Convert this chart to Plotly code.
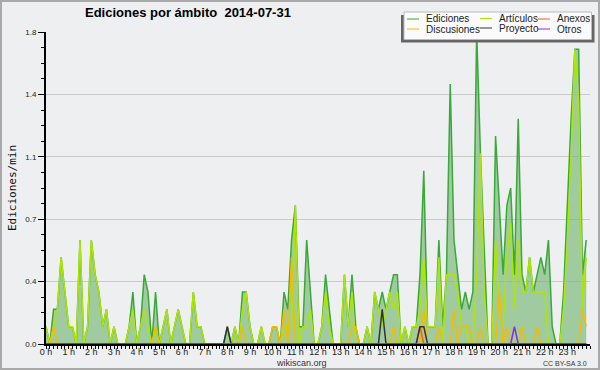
import plotly.graph_objects as go

# ---------------- data (edits per minute, 10-minute bins) ----------------
slots = list(range(144))

ediciones = [
    0.1, 0, 0.2, 0.2, 0.5, 0.3, 0.1, 0.1, 0, 0.6, 0, 0.1,
    0.6, 0.4, 0.3, 0.1, 0.2, 0, 0.1, 0, 0, 0, 0.1, 0.3,
    0, 0.1, 0.4, 0.3, 0, 0.3, 0, 0.1, 0.2, 0, 0.1, 0.2,
    0.1, 0, 0, 0.3, 0.1, 0.1, 0, 0, 0, 0, 0, 0,
    0.1, 0, 0.1, 0, 0.3, 0.3, 0.1, 0, 0, 0.1, 0, 0,
    0.1, 0.1, 0, 0.3, 0.2, 0.6, 0.8, 0.1, 0.1, 0.6, 0.3, 0,
    0, 0.1, 0.4, 0.2, 0, 0, 0, 0.4, 0.1, 0.4, 0.1, 0,
    0, 0.1, 0, 0.3, 0.2, 0.3, 0.2, 0.3, 0.4, 0.4, 0, 0.1,
    0, 0.1, 0.1, 0.4, 1.0, 0.1, 0.1, 0.1, 0.6, 0.1, 0.4, 1.5,
    0.6, 0.4, 0.2, 0.3, 0.2, 0.3, 1.8, 1.1, 0.5, 0, 0, 1.2,
    0.8, 0.4, 0.8, 0.9, 0.4, 1.3, 0.4, 0.3, 0.5, 0.3, 0.4, 0.5,
    0.4, 0.6, 0.1, 0, 0, 0.3, 0.8, 1.3, 1.7, 1.7, 0.4, 0.6,
]

articulos = [
    0.1, 0, 0.1, 0.2, 0.5, 0.3, 0.1, 0.1, 0, 0.6, 0, 0.1,
    0.6, 0.4, 0.3, 0.1, 0.2, 0, 0.1, 0, 0, 0, 0.1, 0.2,
    0, 0.1, 0.2, 0.1, 0, 0.1, 0, 0.1, 0.2, 0, 0.1, 0.2,
    0.1, 0, 0, 0.3, 0.1, 0.1, 0, 0, 0, 0, 0, 0,
    0, 0, 0.1, 0, 0.2, 0.3, 0.1, 0, 0, 0.1, 0, 0,
    0, 0, 0, 0.1, 0.1, 0.1, 0.8, 0, 0.1, 0.1, 0.2, 0,
    0, 0.1, 0.3, 0.1, 0, 0, 0, 0.4, 0.1, 0.3, 0, 0,
    0, 0.1, 0, 0.3, 0.2, 0.1, 0.2, 0.3, 0.2, 0.3, 0, 0.1,
    0, 0.1, 0.1, 0.2, 0.5, 0.1, 0.1, 0.1, 0.5, 0, 0.4, 0.4,
    0.4, 0.3, 0.1, 0.1, 0, 0, 0.4, 1.1, 0.3, 0, 0, 0.6,
    0.2, 0.1, 0.5, 0.7, 0.2, 0.6, 0.3, 0.3, 0.5, 0.3, 0.3, 0.3,
    0.3, 0, 0, 0, 0, 0.2, 0.6, 1.1, 1.7, 1.4, 0.2, 0.5,
]

discusiones = [0] * 144
for i, v in [(2, 0.1), (29, 0.1), (52, 0.1), (60, 0.1), (61, 0.1), (63, 0.2),
             (65, 0.5), (81, 0.1), (82, 0.1), (92, 0.1), (100, 0.2), (104, 0.1),
             (108, 0.2), (110, 0.1), (111, 0.1), (112, 0.1), (115, 0.1),
             (120, 0.3), (122, 0.1), (126, 0.1), (130, 0.1), (142, 0.2), (143, 0.1)]:
    discusiones[i] = v

anexos = [0] * 144
anexos[99] = 0.1

proyecto = [0] * 144
for i, v in [(48, 0.1), (89, 0.2), (99, 0.1), (100, 0.1)]:
    proyecto[i] = v

otros = [0] * 144
otros[124] = 0.1

hour_ticks = list(range(0, 144, 6))
hour_labels = [f"{h} h" for h in range(24)]
y_ticks = [0, 0.36, 0.72, 1.08, 1.44, 1.8]
y_labels = ["0.0", "0.4", "0.7", "1.1", "1.4", "1.8"]

series = [
    ("Ediciones", ediciones, "#3aa83a"),
    ("Artículos", articulos, "#aee600"),
    ("Discusiones", discusiones, "#f2bd00"),
    ("Anexos", anexos, "#f05a28"),
    ("Proyecto", proyecto, "#333333"),
    ("Otros", otros, "#8a2be2"),
]

# ---------------- layout geometry ----------------
W, H = 600, 370
L, R, T, B = 46, 10, 32, 26
PW, PH = W - L - R, H - T - B


def px(x):
    return (x - L) / PW


def py(y):
    return (H - B - y) / PH


BG = "#eeeff1"
FONT = "Liberation Sans, Arial, sans-serif"

fig = go.Figure()
for k, (name, vals, col) in enumerate(series):
    kw = {}
    if k == 0:
        kw = dict(fill="tozeroy", fillcolor="rgba(112,180,110,0.62)")
    fig.add_trace(go.Scatter(
        x=slots, y=vals, mode="lines", name=name,
        line=dict(color=col, width=1.5), showlegend=False, **kw))

shapes = []
annotations = []

# outer frame
shapes.append(dict(type="rect", xref="paper", yref="paper",
                   x0=px(1), x1=px(599), y0=py(369), y1=py(1),
                   line=dict(color="#a9a9a9", width=2), fillcolor="rgba(0,0,0,0)"))

# legend box with shadow
shapes.append(dict(type="rect", xref="paper", yref="paper",
                   x0=px(401), x1=px(594.5), y0=py(42.5), y1=py(15),
                   line=dict(width=0), fillcolor="#666666"))
shapes.append(dict(type="rect", xref="paper", yref="paper",
                   x0=px(404), x1=px(591.5), y0=py(39.5), y1=py(12),
                   line=dict(color="#bbbbbb", width=1), fillcolor="#fbfbfb"))

legend_pos = {
    "Ediciones": (407, 19), "Artículos": (480, 18.5), "Anexos": (538, 19),
    "Discusiones": (407, 29), "Proyecto": (480, 28), "Otros": (538, 29),
}
for name, vals, col in series:
    lx, ly = legend_pos[name]
    shapes.append(dict(type="line", xref="paper", yref="paper",
                       x0=px(lx), x1=px(lx + 12), y0=py(ly), y1=py(ly),
                       line=dict(color=col, width=1)))
    annotations.append(dict(text=name, xref="paper", yref="paper",
                            x=px(lx + 17), y=py(ly), xanchor="left", yanchor="middle",
                            showarrow=False, font=dict(family=FONT, size=10, color="#222222")))

annotations.append(dict(text="Ediciones/min", xref="paper", yref="paper",
                        x=px(12), y=py(188), textangle=-90, xanchor="center", yanchor="middle",
                        showarrow=False, font=dict(family="DejaVu Sans Mono, monospace", size=11, color="#111111")))
annotations.append(dict(text="wikiscan.org", xref="paper", yref="paper",
                        x=px(301), y=py(363), xanchor="center", yanchor="middle",
                        showarrow=False, font=dict(family=FONT, size=9, color="#333333")))
annotations.append(dict(text="CC BY-SA 3.0", xref="paper", yref="paper",
                        x=px(589), y=py(363), xanchor="right", yanchor="middle",
                        showarrow=False, font=dict(family=FONT, size=7, color="#333333")))

fig.update_layout(
    width=W, height=H,
    margin=dict(l=L, r=R, t=T, b=B, pad=0),
    paper_bgcolor=BG, plot_bgcolor=BG,
    title=dict(text="<b>Ediciones por ámbito  2014-07-31</b>",
               x=85 / W, xanchor="left", y=1 - 12 / H, yanchor="middle",
               font=dict(family=FONT, size=13, color="#000000")),
    shapes=shapes, annotations=annotations,
    showlegend=False,
    xaxis=dict(range=[0, 144], tickmode="array", tickvals=hour_ticks, ticktext=hour_labels,
               ticks="outside", ticklen=3, tickcolor="#000", tickwidth=1,
               minor=dict(tickmode="linear", tick0=0, dtick=1, ticklen=3,
                          tickcolor="#000", tickwidth=1, showgrid=False),
               ticklabelstandoff=-5,
               showline=True, linecolor="#000", linewidth=2, showgrid=False, zeroline=False,
               tickfont=dict(family=FONT, size=9, color="#222222"), fixedrange=True),
    yaxis=dict(range=[0, 1.8], tickmode="array", tickvals=y_ticks, ticktext=y_labels,
               ticks="outside", ticklen=6, tickcolor="#000", tickwidth=1,
               minor=dict(tickmode="linear", tick0=0, dtick=0.09, ticklen=3,
                          tickcolor="#000", tickwidth=1, showgrid=False),
               showline=True, linecolor="#000", linewidth=2,
               showgrid=True, gridcolor="#cbcbcb", gridwidth=1, zeroline=False,
               tickfont=dict(family=FONT, size=8, color="#222222"), fixedrange=True),
)

fig.write_html(
    "out.html",
    config={"displayModeBar": False},
    post_script="document.body.style.margin='0px';document.body.style.overflow='hidden';",
)
